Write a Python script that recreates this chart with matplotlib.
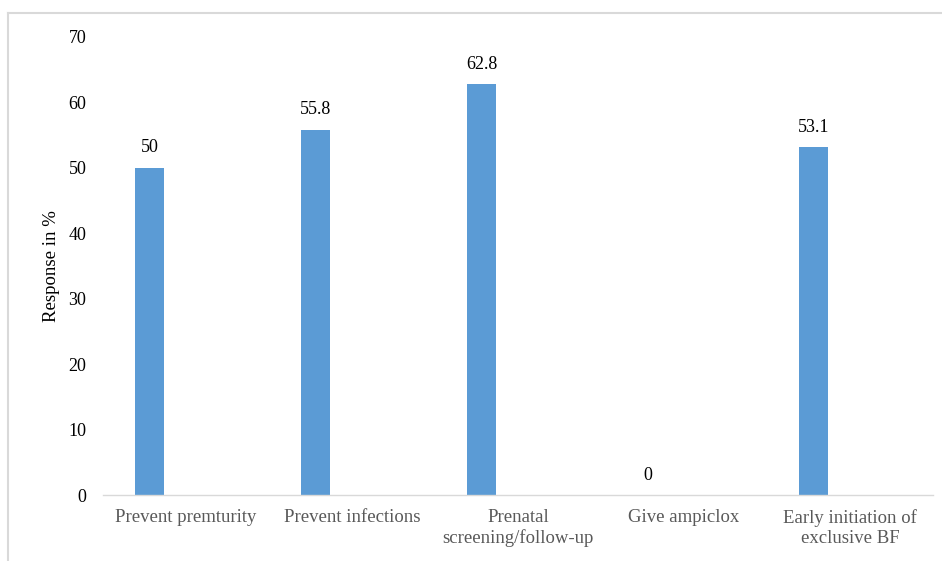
import matplotlib.pyplot as plt
from matplotlib.lines import Line2D
import numpy as np

# response data
categories = ["Prevent premturity", "Prevent infections", "Prenatal\nscreening/follow-up",
              "Give ampiclox", "Early initiation of\nexclusive BF"]
responses = [50, 55.8, 62.8, 0, 53.1]
value_labels = ["50", "55.8", "62.8", "0", "53.1"]
yticks = [0, 10, 20, 30, 40, 50, 60, 70]

BAR_COLOR = "#5B9BD5"
FRAME_COLOR = "#D9D9D9"

plt.rcParams['font.family'] = ['Liberation Serif', 'DejaVu Serif']


def PlotGraph():
    fig = plt.figure(figsize=(9.42, 5.61), dpi=100)
    ax = fig.add_axes([0.1093, 0.1176, 0.8811, 0.8173])

    x = np.arange(len(categories))
    # bars sit left of the category centre (second, empty series slot on the right)
    bar_x = x - 0.217
    ax.bar(bar_x, responses, width=0.175, color=BAR_COLOR)

    for xi, val, lbl in zip(bar_x, responses, value_labels):
        ax.annotate(lbl, (xi, val), xytext=(0, 8), textcoords="offset points",
                    ha="center", va="bottom", fontsize=13, color="black")

    ax.set_xlim(-0.5, len(categories) - 0.5)
    ax.set_ylim(0, 70)
    ax.set_yticks(yticks)
    ax.set_xticks(x)
    ax.set_xticklabels(categories, fontsize=13.5, color="#595959", linespacing=1.25)
    ax.tick_params(axis="y", length=0, pad=12, labelsize=13, labelcolor="black")
    ax.tick_params(axis="x", length=0, pad=10)
    ax.set_ylabel("Response in %", fontsize=13.5, labelpad=6)

    for side in ["top", "right", "left"]:
        ax.spines[side].set_visible(False)
    ax.spines["bottom"].set_color(FRAME_COLOR)
    ax.spines["bottom"].set_linewidth(1.0)

    # outer chart border (top and left edges)
    w, h = 942, 561
    fig.add_artist(Line2D([8 / w, 1.0], [1 - 13 / h, 1 - 13 / h], color=FRAME_COLOR,
                          linewidth=1.5, transform=fig.transFigure))
    fig.add_artist(Line2D([8 / w, 8 / w], [0, 1 - 13 / h], color=FRAME_COLOR,
                          linewidth=1.5, transform=fig.transFigure))

    fig.savefig("out.png", dpi=100)


def main():
    PlotGraph()


if __name__ == "__main__":
    main()
